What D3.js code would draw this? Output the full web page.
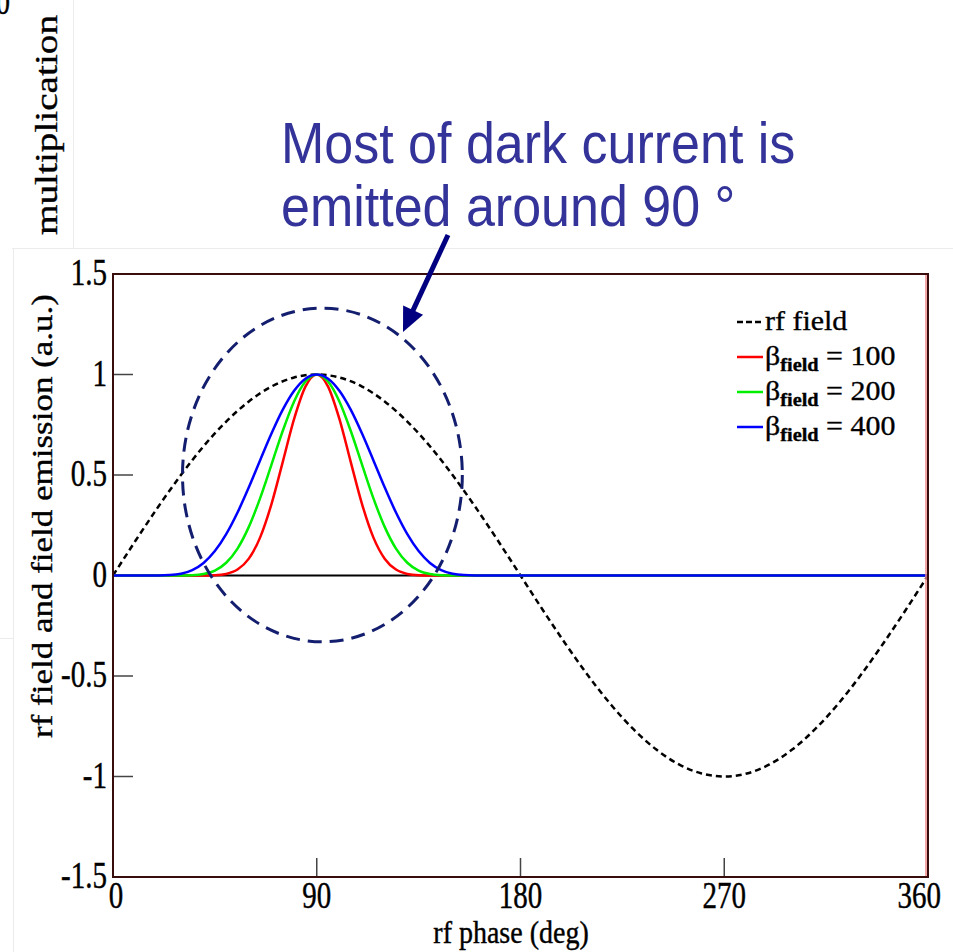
<!DOCTYPE html>
<html>
<head>
<meta charset="utf-8">
<script src="https://cdn.jsdelivr.net/npm/d3@7"></script>
<style>
  html, body { margin: 0; padding: 0; background: #fff; }
  svg { display: block; }
</style>
</head>
<body>
<script>
// rf field (dashed black), sampled every 10 deg
var fieldPhase = [0,10,20,30,40,50,60,70,80,90,100,110,120,130,140,150,160,170,180,
  190,200,210,220,230,240,250,260,270,280,290,300,310,320,330,340,350,360];
var rfField = [0,0.174,0.342,0.5,0.643,0.766,0.866,0.94,0.985,1,0.985,0.94,0.866,0.766,0.643,0.5,0.342,0.174,0,
  -0.174,-0.342,-0.5,-0.643,-0.766,-0.866,-0.94,-0.985,-1,-0.985,-0.94,-0.866,-0.766,-0.643,-0.5,-0.342,-0.174,0];

// field emission curves, sampled every 5 deg up to 180, then flat to 360
var emPhase = [0,5,10,15,20,25,30,35,40,45,50,55,60,65,70,75,80,85,90,
  95,100,105,110,115,120,125,130,135,140,145,150,155,160,165,170,175,180,360];
var beta100 = [0,0,0,0,0,0,0,0,0.0002,0.0014,0.0078,0.0295,0.0838,0.1897,0.3553,0.5656,0.7791,0.94,1,
  0.94,0.7791,0.5656,0.3553,0.1897,0.0838,0.0295,0.0078,0.0014,0.0002,0,0,0,0,0,0,0,0,0];
var beta200 = [0,0,0,0,0,0,0.0002,0.0015,0.0074,0.0246,0.0634,0.1338,0.2419,0.3851,0.5515,0.7201,0.8659,0.9649,1,
  0.9649,0.8659,0.7201,0.5515,0.3851,0.2419,0.1338,0.0634,0.0246,0.0074,0.0015,0.0002,0,0,0,0,0,0,0];
var beta400 = [0,0,0,0,0.0002,0.0019,0.0088,0.0268,0.0625,0.1214,0.2055,0.3132,0.4388,0.5735,0.7061,0.8249,0.9189,0.9792,1,
  0.9792,0.9189,0.8249,0.7061,0.5735,0.4388,0.3132,0.2055,0.1214,0.0625,0.0268,0.0088,0.0019,0.0002,0,0,0,0,0];

var xTicks = [0, 90, 180, 270, 360];
var yTicks = [-1.5, -1, -0.5, 0, 0.5, 1, 1.5];
var betaLabels = ["100", "200", "400"];
var betaColors = ["#ff0000", "#00ee00", "#0000ff"];

var serif = "'Times New Roman', 'Liberation Serif', serif";
var sans = "Arial, 'Liberation Sans', sans-serif";

var svg = d3.select("body").append("svg")
  .attr("width", 953)
  .attr("height", 952);

var x = d3.scaleLinear().domain([0, 360]).range([113, 928]);
var y = d3.scaleLinear().domain([-1.5, 1.5]).range([877, 274]);

// faint slide guide lines
var guide = svg.append("g").attr("stroke", "#ececec").attr("stroke-width", 1);
guide.append("line").attr("x1", 73.5).attr("x2", 73.5).attr("y1", 0).attr("y2", 248);
guide.append("line").attr("x1", 12).attr("x2", 953).attr("y1", 248.5).attr("y2", 248.5);
guide.append("line").attr("x1", 13.5).attr("x2", 13.5).attr("y1", 248).attr("y2", 952);
guide.append("line").attr("x1", 0).attr("x2", 13).attr("y1", 638.5).attr("y2", 638.5);

// stretched text helper (the slide picture is taller than wide)
function label(g, txt, px, py, size, sy, anchor, sx) {
  return g.append("text")
    .attr("transform", "translate(" + px + "," + py + ") scale(" + (sx || 1) + "," + sy + ")")
    .attr("text-anchor", anchor || "start")
    .attr("font-family", serif)
    .attr("font-size", size)
    .attr("fill", "#000")
    .attr("stroke", "#000")
    .attr("stroke-width", 0.35)
    .text(txt);
}

// leftover bits from the slide
label(svg, "0", 10, 14, 28, 1.3, "end");
svg.append("text")
  .attr("transform", "translate(57,125) rotate(-90)")
  .attr("text-anchor", "middle")
  .attr("font-family", serif)
  .attr("font-size", 31)
  .attr("stroke", "#000").attr("stroke-width", 0.35)
  .attr("textLength", 220)
  .attr("lengthAdjust", "spacingAndGlyphs")
  .text("multiplication");

// ticks (inside)
var tk = svg.append("g").attr("stroke", "#444").attr("stroke-width", 1.5);
yTicks.filter(function(d) { return d > -1.5 && d < 1.5; }).forEach(function(d) {
  tk.append("line").attr("x1", x(0)).attr("x2", x(0) + 20).attr("y1", y(d)).attr("y2", y(d));
});
xTicks.filter(function(d) { return d > 0 && d < 360; }).forEach(function(d) {
  tk.append("line").attr("x1", x(d)).attr("x2", x(d)).attr("y1", y(-1.5)).attr("y2", y(-1.5) - 19);
});

// tick labels
var tl = svg.append("g");
yTicks.forEach(function(d) {
  label(tl, String(d), 107, y(d) + 11, 29, 1.3, "end");
});
xTicks.forEach(function(d) {
  if (d === 360) label(tl, String(d), 941, 908, 29, 1.3, "end");
  else if (d === 0) label(tl, String(d), x(d) + 3, 908, 29, 1.3, "middle");
  else label(tl, String(d), x(d), 908, 29, 1.3, "middle");
});

// axis titles
label(svg, "rf phase (deg)", 511, 943, 28, 1.15, "middle");
svg.append("text")
  .attr("transform", "translate(52,516) rotate(-90)")
  .attr("text-anchor", "middle")
  .attr("font-family", serif)
  .attr("font-size", 29)
  .attr("stroke", "#000").attr("stroke-width", 0.35)
  .attr("textLength", 444)
  .attr("lengthAdjust", "spacingAndGlyphs")
  .text("rf field and field emission (a.u.)");

// zero line
svg.append("line")
  .attr("x1", x(0)).attr("x2", x(360))
  .attr("y1", y(0)).attr("y2", y(0))
  .attr("stroke", "#000").attr("stroke-width", 2);

// rf field
var fieldLine = d3.line()
  .x(function(d, i) { return x(fieldPhase[i]); })
  .y(function(d) { return y(d); })
  .curve(d3.curveNatural);

svg.append("path")
  .attr("d", fieldLine(rfField))
  .attr("fill", "none")
  .attr("stroke", "#000")
  .attr("stroke-width", 2.5)
  .attr("stroke-dasharray", "6,4");

// emission curves
var emLine = d3.line()
  .x(function(d, i) { return x(emPhase[i]); })
  .y(function(d) { return y(d); })
  .curve(d3.curveMonotoneX);

[beta100, beta200, beta400].forEach(function(s, i) {
  svg.append("path")
    .attr("d", emLine(s))
    .attr("fill", "none")
    .attr("stroke", betaColors[i])
    .attr("stroke-width", 2.5);
});

// frame
var fr = svg.append("g").attr("fill", "none");
fr.append("line").attr("x1", 926).attr("x2", 926).attr("y1", 274).attr("y2", 877)
  .attr("stroke", "#f08a8a").attr("stroke-width", 1.5);
fr.append("rect")
  .attr("x", x(0)).attr("y", y(1.5))
  .attr("width", x(360) - x(0)).attr("height", y(-1.5) - y(1.5))
  .attr("stroke", "#3a0d0d").attr("stroke-width", 2);

// legend
var lg = svg.append("g");
lg.append("line").attr("x1", 737).attr("x2", 763).attr("y1", 322).attr("y2", 322)
  .attr("stroke", "#000").attr("stroke-width", 2.5).attr("stroke-dasharray", "6,3");
label(lg, "rf field", 765, 330, 28, 1, "start", 1.07);
betaLabels.forEach(function(b, i) {
  var ly = 357 + i * 35;
  lg.append("line").attr("x1", 737).attr("x2", 763).attr("y1", ly).attr("y2", ly)
    .attr("stroke", betaColors[i]).attr("stroke-width", 2.5);
  var t = label(lg, "", 765, ly + 8, 28, 1, "start", 1.07);
  t.append("tspan").text("β");
  t.append("tspan").attr("font-size", 19).attr("font-weight", "bold").attr("dy", 6).text("field");
  t.append("tspan").attr("dy", -6).text(" = " + b);
});

// annotation
var note = svg.append("g").attr("fill", "#333399")
  .attr("font-family", sans).attr("font-size", 52);
note.append("text").attr("transform", "translate(281,163) scale(1,1.1)").text("Most of dark current is");
note.append("text").attr("transform", "translate(281,226) scale(1,1.1)").text("emitted around 90 °");

svg.append("ellipse")
  .attr("cx", x(92.5)).attr("cy", y(0.5))
  .attr("rx", x(61.8) - x(0)).attr("ry", y(0) - y(0.83))
  .attr("fill", "none")
  .attr("stroke", "#141e6e")
  .attr("stroke-width", 3)
  .attr("stroke-dasharray", "14,8");

// arrow
var ax0 = 448, ay0 = 235, ax1 = 403, ay1 = 332;
var len = Math.hypot(ax1 - ax0, ay1 - ay0);
var ux = (ax1 - ax0) / len, uy = (ay1 - ay0) / len;
svg.append("line")
  .attr("x1", ax0).attr("y1", ay0)
  .attr("x2", ax1 - ux * 18).attr("y2", ay1 - uy * 18)
  .attr("stroke", "#000080").attr("stroke-width", 5);
var hb = [ax1 - ux * 24, ay1 - uy * 24];
svg.append("path")
  .attr("d", "M" + ax1 + "," + ay1 +
    "L" + (hb[0] - uy * 11) + "," + (hb[1] + ux * 11) +
    "L" + (hb[0] + uy * 11) + "," + (hb[1] - ux * 11) + "Z")
  .attr("fill", "#000080");
</script>
</body>
</html>
